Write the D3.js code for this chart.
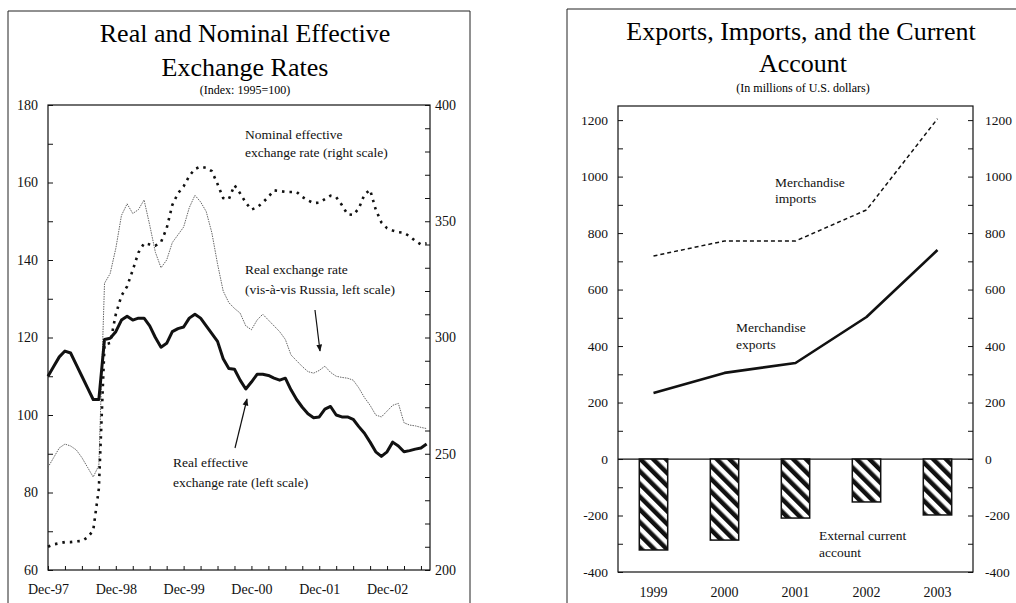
<!DOCTYPE html>
<html>
<head>
<meta charset="utf-8">
<script src="https://cdnjs.cloudflare.com/ajax/libs/d3/7.8.5/d3.min.js"></script>
<style>
  body { margin: 0; background: #fff; }
  svg { display: block; font-family: "Liberation Serif", "Times New Roman", serif; }
</style>
</head>
<body>
<div id="chart"></div>
<script>
// ---- left panel data (monthly, Dec-97 .. Jul-03) ----
const monthTickLabels = ["Dec-97", "Dec-98", "Dec-99", "Dec-00", "Dec-01", "Dec-02"];
const monthTickIndex = [0, 12, 24, 36, 48, 60];

const realEffective = [110, 112.5, 115, 116.5, 116, 113, 110, 107, 104, 104,
  119.5, 119.8, 121.5, 124.5, 125.5, 124.5, 125, 125, 123, 120,
  117.5, 118.5, 121.5, 122.3, 122.7, 125, 126, 125, 123, 121,
  119, 114.5, 112, 111.8, 109, 106.7, 108.5, 110.5, 110.5, 110.2,
  109.5, 109, 109.5, 106.5, 104, 102, 100.3, 99.3, 99.5, 101.5,
  102.2, 100, 99.5, 99.5, 98.9, 97, 95.3, 93, 90.5, 89.3,
  90.5, 93, 92, 90.5, 90.8, 91.2, 91.5, 92.5];

const realVsRussia = [86.5, 89, 91.5, 92.5, 92, 91, 89, 86.5, 84, 87,
  134, 136.5, 143, 151.5, 154.5, 152, 153, 155.5, 149, 142,
  138, 140, 144.5, 146.5, 148.5, 153.5, 156.7, 155, 152.5, 147,
  139, 132, 129, 127.5, 126.3, 123, 122, 124.5, 126, 124.5,
  123, 121.5, 119.5, 115.5, 114, 112.5, 111.2, 110.8, 111.5, 112.6,
  111, 110, 109.7, 109.5, 109, 107, 104.5, 102.5, 100, 99.5,
  101, 102.5, 103, 98, 97.4, 97.2, 96.8, 96.5];

const nominalEffective = [210, 211, 211.5, 212, 212, 212.3, 212.5, 214, 217, 235,
  297, 297.6, 310, 318, 322, 329, 336.5, 340.5, 340, 339.5,
  341, 347, 357, 362, 365, 369.5, 372.5, 373.5, 373, 371.5,
  366, 360, 359.5, 365.5, 362, 358, 355, 356, 358, 360.5,
  363.3, 363, 362.6, 362.6, 362.6, 360.5, 359, 357.8, 358, 359.5,
  361, 360.4, 357, 353, 352.7, 355.5, 361.5, 363.5, 355, 349.5,
  347, 346, 345.3, 345, 343.5, 341.5, 340, 340.5];

// ---- right panel data (annual) ----
const years = ["1999", "2000", "2001", "2002", "2003"];
const merchExports = [234, 305, 340, 503, 740];
const merchImports = [719, 772, 772, 882, 1205];
const currentAccount = [-322, -287, -209, -152, -198];

var svg = d3.select("#chart")
  .append("svg")
  .attr("width", 1016)
  .attr("height", 603);

var defs = svg.append("defs");
defs.append("marker")
  .attr("id", "arrow")
  .attr("viewBox", "0 0 10 10")
  .attr("refX", 9).attr("refY", 5)
  .attr("markerWidth", 6).attr("markerHeight", 6)
  .attr("orient", "auto")
  .append("path")
  .attr("d", "M0,1 L10,5 L0,9 z")
  .attr("fill", "#111");

var hatch = defs.append("pattern")
  .attr("id", "hatch")
  .attr("patternUnits", "userSpaceOnUse")
  .attr("width", 9).attr("height", 9)
  .attr("patternTransform", "rotate(-45)");
hatch.append("rect").attr("width", 9).attr("height", 9).attr("fill", "#fff");
hatch.append("rect").attr("width", 4.5).attr("height", 9).attr("fill", "#111");

// page frames (scanned boxes)
svg.append("path")
  .attr("d", "M8,603 L8,11 L470,11 L470,603")
  .attr("fill", "none").attr("stroke", "#222").attr("stroke-width", 1);
svg.append("path")
  .attr("d", "M567,603 L567,9 L1016,9")
  .attr("fill", "none").attr("stroke", "#222").attr("stroke-width", 1);

function styleAxis(g, size) {
  g.attr("font-family", "Liberation Serif, Times New Roman, serif")
   .attr("font-size", size);
  g.select(".domain").remove();
  g.selectAll(".tick line").attr("stroke", "#111");
  g.selectAll(".tick text").attr("fill", "#111");
}

// ================= LEFT PANEL =================
var L = {left: 48, right: 430, top: 105, bottom: 570};

var x = d3.scaleLinear().domain([0, 67.6]).range([L.left, L.right]);
var yL = d3.scaleLinear().domain([60, 180]).range([L.bottom, L.top]);
var yR = d3.scaleLinear().domain([200, 400]).range([L.bottom, L.top]);

svg.append("text")
  .attr("x", 245).attr("y", 42)
  .attr("text-anchor", "middle").attr("font-size", 26)
  .text("Real and Nominal Effective");
svg.append("text")
  .attr("x", 245).attr("y", 76)
  .attr("text-anchor", "middle").attr("font-size", 26)
  .text("Exchange Rates");
svg.append("text")
  .attr("x", 245).attr("y", 94)
  .attr("text-anchor", "middle").attr("font-size", 12)
  .text("(Index: 1995=100)");

svg.append("g")
  .attr("transform", `translate(${L.left},0)`)
  .call(d3.axisLeft(yL).tickValues(d3.range(60, 181, 10)).tickSize(-5).tickPadding(10)
    .tickFormat(d => d % 20 === 0 ? d : ""))
  .call(g => styleAxis(g, 14));

svg.append("g")
  .attr("transform", `translate(${L.right},0)`)
  .call(d3.axisRight(yR).tickValues(d3.range(200, 401, 10)).tickSize(-5).tickPadding(5)
    .tickFormat(d => d % 50 === 0 ? d : ""))
  .call(g => styleAxis(g, 14));

svg.append("g")
  .attr("transform", `translate(0,${L.bottom})`)
  .call(d3.axisBottom(x).tickValues(d3.range(0, 67, 3)).tickSize(-4).tickPadding(14)
    .tickFormat(d => {
      var k = monthTickIndex.indexOf(d);
      return k >= 0 ? monthTickLabels[k] : "";
    }))
  .call(g => styleAxis(g, 14));

svg.append("rect")
  .attr("x", L.left).attr("y", L.top)
  .attr("width", L.right - L.left).attr("height", L.bottom - L.top)
  .attr("fill", "none").attr("stroke", "#111").attr("stroke-width", 1.2);

var lineL = d3.line().x((d, i) => x(i)).y(d => yL(d));
var lineN = d3.line().x((d, i) => x(i)).y(d => yR(d));

svg.append("path")
  .datum(realVsRussia)
  .attr("fill", "none").attr("stroke", "#666")
  .attr("stroke-width", 1).attr("stroke-dasharray", "1.5,1")
  .attr("d", lineL);

svg.append("path")
  .datum(nominalEffective)
  .attr("fill", "none").attr("stroke", "#111")
  .attr("stroke-width", 2.6).attr("stroke-dasharray", "2.5,5")
  .attr("d", lineN);

svg.append("path")
  .datum(realEffective)
  .attr("fill", "none").attr("stroke", "#111")
  .attr("stroke-width", 3).attr("stroke-linejoin", "round")
  .attr("d", lineL);

function label(lines, xPos, yPos, size, step) {
  var t = svg.append("text").attr("font-size", size).attr("fill", "#111");
  lines.forEach((s, i) => {
    t.append("tspan").attr("x", xPos).attr("y", yPos + i * step).text(s);
  });
}

label(["Nominal effective", "exchange rate (right scale)"], 245, 139, 13.5, 18);
label(["Real exchange rate", "(vis-\u00e0-vis Russia, left scale)"], 245, 274, 13.5, 20);
label(["Real effective", "exchange rate (left scale)"], 173, 467, 13.5, 20);

svg.append("line")
  .attr("x1", 315).attr("y1", 310).attr("x2", 320).attr("y2", 351)
  .attr("stroke", "#111").attr("stroke-width", 1.2).attr("marker-end", "url(#arrow)");
svg.append("line")
  .attr("x1", 235).attr("y1", 448).attr("x2", 247).attr("y2", 399)
  .attr("stroke", "#111").attr("stroke-width", 1.2).attr("marker-end", "url(#arrow)");

// ================= RIGHT PANEL =================
var R = {left: 618, right: 973, top: 106, bottom: 572};

var xb = d3.scaleBand().domain(years).range([R.left, R.right])
  .paddingInner(0.6).paddingOuter(0.3);
var yb = d3.scaleLinear().domain([-400, 1250]).range([R.bottom, R.top]);
var cx = d => xb(d) + xb.bandwidth() / 2;

svg.append("text")
  .attr("x", 801).attr("y", 40)
  .attr("text-anchor", "middle").attr("font-size", 26)
  .text("Exports, Imports, and the Current");
svg.append("text")
  .attr("x", 803).attr("y", 72)
  .attr("text-anchor", "middle").attr("font-size", 26)
  .text("Account");
svg.append("text")
  .attr("x", 803).attr("y", 92)
  .attr("text-anchor", "middle").attr("font-size", 12)
  .text("(In millions of U.S. dollars)");

svg.append("g")
  .attr("transform", `translate(${R.left},0)`)
  .call(d3.axisLeft(yb).tickValues(d3.range(-400, 1201, 100)).tickSize(-5).tickPadding(10)
    .tickFormat(d => d % 200 === 0 ? d : ""))
  .call(g => styleAxis(g, 13.5));

svg.append("g")
  .attr("transform", `translate(${R.right},0)`)
  .call(d3.axisRight(yb).tickValues(d3.range(-400, 1201, 100)).tickSize(-5).tickPadding(12)
    .tickFormat(d => d % 200 === 0 ? d : ""))
  .call(g => styleAxis(g, 13.5));

svg.append("g")
  .attr("transform", `translate(0,${R.bottom})`)
  .call(d3.axisBottom(xb).tickSize(0).tickPadding(15))
  .call(g => styleAxis(g, 14));

svg.append("rect")
  .attr("x", R.left).attr("y", R.top)
  .attr("width", R.right - R.left).attr("height", R.bottom - R.top)
  .attr("fill", "none").attr("stroke", "#111").attr("stroke-width", 1.2);

svg.append("line")
  .attr("x1", R.left).attr("x2", R.right)
  .attr("y1", yb(0)).attr("y2", yb(0))
  .attr("stroke", "#111").attr("stroke-width", 1.2);

svg.append("g")
  .selectAll("rect")
  .data(currentAccount)
  .join("rect")
  .attr("x", (d, i) => xb(years[i]))
  .attr("width", xb.bandwidth())
  .attr("y", yb(0))
  .attr("height", d => yb(d) - yb(0))
  .attr("fill", "url(#hatch)")
  .attr("stroke", "#111").attr("stroke-width", 1.5);

var lineB = d3.line().x((d, i) => cx(years[i])).y(d => yb(d));

svg.append("path")
  .datum(merchImports)
  .attr("fill", "none").attr("stroke", "#111")
  .attr("stroke-width", 1.5).attr("stroke-dasharray", "4,3")
  .attr("d", lineB);

svg.append("path")
  .datum(merchExports)
  .attr("fill", "none").attr("stroke", "#111")
  .attr("stroke-width", 2.6).attr("stroke-linejoin", "round")
  .attr("d", lineB);

label(["Merchandise", "imports"], 775, 187, 13.5, 16);
label(["Merchandise", "exports"], 736, 332, 13.5, 17);
label(["External current", "account"], 819, 540, 13.5, 17);
</script>
</body>
</html>
